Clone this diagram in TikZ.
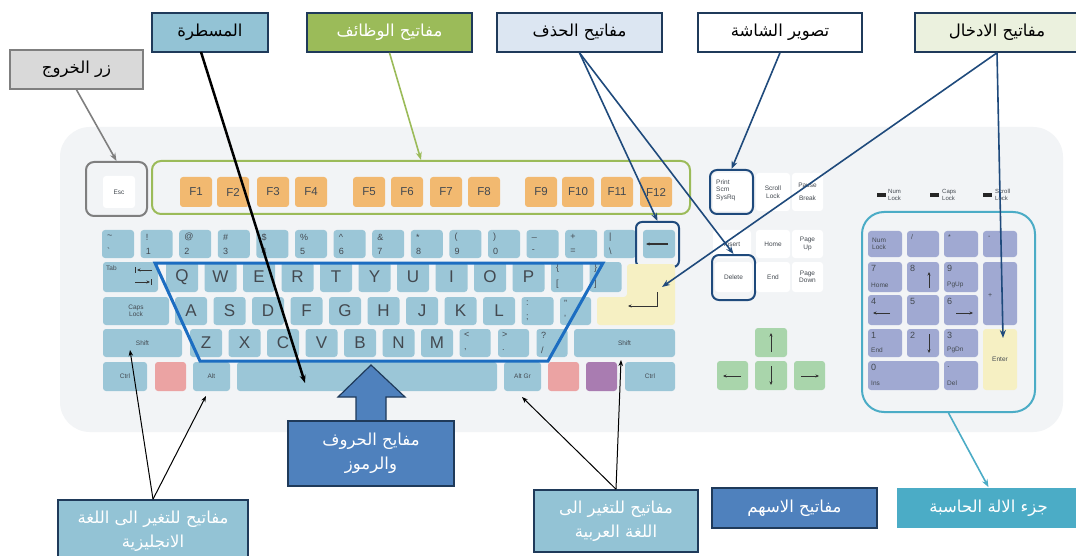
\documentclass[tikz,border=0pt]{standalone}
\usepackage{fontspec}
\setmainfont{Liberation Sans}
\newfontfamily\arabicfont[Script=Arabic]{DejaVu Sans}
\TeXXeTstate=1
\usetikzlibrary{arrows.meta,calc}
\definecolor{kbbg}{HTML}{F2F4F6}
\definecolor{keyblue}{HTML}{9BC6D7}
\definecolor{keytext}{HTML}{434950}
\definecolor{forange}{HTML}{F2B970}
\definecolor{keyred}{HTML}{EBA3A3}
\definecolor{keypurple}{HTML}{A97CB1}
\definecolor{keyyellow}{HTML}{F6F0C3}
\definecolor{keygreen}{HTML}{A9D5AB}
\definecolor{padblue}{HTML}{A0A9D2}
\definecolor{navy}{HTML}{1F4A7C}
\definecolor{boxline}{HTML}{1F3A5A}
\definecolor{letterline}{HTML}{1C6DC1}
\definecolor{grnline}{HTML}{9BBB59}
\definecolor{calcteal}{HTML}{4BACC6}
\definecolor{rulerblue}{HTML}{93C3D5}
\definecolor{delblue}{HTML}{DCE6F2}
\definecolor{entergreen}{HTML}{EBF1DE}
\definecolor{darkblue}{HTML}{4F81BD}
\definecolor{exitgray}{HTML}{D9D9D9}
\definecolor{exitline}{HTML}{7F7F7F}
\newcommand\K[7]{\node[#6, minimum width=#4pt, minimum height=#5pt] (#1) at ({#2+#4/2},{#3+#5/2}) {#7};}
\begin{document}
\begin{tikzpicture}[x=1pt,y=-1pt,
  keyb/.style={fill=keyblue, rounded corners=3pt, inner sep=0pt, text=keytext},
  whk/.style={fill=white, rounded corners=3pt, inner sep=0pt, text=keytext},
  letter/.style={font=\fontsize{17}{17}\selectfont},
  fk/.style={fill=forange, rounded corners=3pt, inner sep=0pt, text=keytext, font=\fontsize{11.5}{12}\selectfont},
  sym/.style={inner sep=0pt, anchor=west, text=keytext, font=\fontsize{9}{9}\selectfont},
  tiny/.style={inner sep=0pt, text=keytext, font=\fontsize{6.5}{7.5}\selectfont, align=center},
  tinyl/.style={inner sep=0pt, text=keytext, font=\fontsize{6.5}{7.5}\selectfont, align=left, anchor=west},
  padk/.style={fill=padblue, rounded corners=3pt, inner sep=0pt},
  grk/.style={fill=keygreen, rounded corners=3pt, inner sep=0pt},
  frame/.style={line width=2pt, rounded corners=7pt, inner sep=0pt},
  callout/.style={draw=boxline, line width=1.6pt, inner sep=0pt, font=\arabicfont\fontsize{16.5}{24}\selectfont, align=center},
  conn/.style={line width=1.6pt, -{Stealth[length=8pt,width=6pt]}},
  thinc/.style={line width=1pt, black, -{Stealth[length=6pt,width=4.5pt]}},
  symarr/.style={line width=1pt, black!80, -{Stealth[length=3.5pt,width=3pt]}},
]
\useasboundingbox (0,0) rectangle (1076,556);
\fill[white] (0,0) rectangle (1076,556);
\fill[kbbg, rounded corners=30pt] (60,127) rectangle (1063,432);

% Esc
\node[frame, draw=exitline, rounded corners=8pt, minimum width=61pt, minimum height=54pt] (escframe) at (116.5,189) {};
\K{esc}{103}{176}{32}{32}{whk,tiny}{Esc}

% function keys
\node[frame, draw=grnline, rounded corners=9pt, minimum width=538pt, minimum height=53pt] (fgroup) at (421,187.5) {};
\foreach \x [count=\i] in {180,217,257,295,353,391,430,468,525,562,601,640} { \K{f\i}{\x}{177}{32}{30}{fk}{F\i} }

% number row
\foreach \t/\b [count=\i from 0] in {{\textasciitilde}/{\textasciigrave}, !/1, @/2, {\#}/3, {\$}/4, {\%}/5, {\textasciicircum}/6, {\&}/7, */8, {(}/9, {)}/0, {\_}/{-}, +/=, |/{\textbackslash}} {
  \pgfmathsetmacro\xx{102+38.6*\i}
  \K{n\i}{\xx}{230}{32}{28}{keyb}{}
  \node[sym] (nt\i) at (\xx+5,237) {\t};
  \node[sym] (nb\i) at (\xx+5,251) {\b};
}
\K{bksp}{643}{230}{32}{28}{keyb}{}
\draw[symarr, line width=1.4pt] (668,244) -- (646,244);
\node[frame, draw=navy, rounded corners=6pt, minimum width=43pt, minimum height=45pt] (bsframe) at (657.5,244.5) {};

% tab row
\K{tab}{103}{262}{55}{30}{keyb}{}
\node[tinyl] (tabt) at (106,268) {Tab};
\draw[symarr] (152,270) -- (137,270);
\draw[line width=1pt, black!80] (135.5,267) -- (135.5,273);
\draw[symarr] (135,282) -- (150,282);
\draw[line width=1pt, black!80] (151.5,279) -- (151.5,285);
\foreach \l [count=\i from 0] in {Q,W,E,R,T,Y,U,I,O,P} {
  \pgfmathsetmacro\xx{166+38.5*\i}
  \K{q\i}{\xx}{262}{32}{30}{keyb,letter}{\l}
}
\K{lbrk}{551}{262}{32}{30}{keyb}{}
\node[sym] (lbt) at (556,268) {\{};
\node[sym] (lbb) at (556,284) {[};
\K{rbrk}{589.5}{262}{32}{30}{keyb}{}
\node[sym] (rbt) at (594,268) {\}};
\node[sym] (rbb) at (594,284) {]};

% enter
\fill[keyyellow, rounded corners=3pt] (627,264) -- (675,264) -- (675,325) -- (597,325) -- (597,297) -- (627,297) -- cycle;
\draw[symarr] (657,292) -- (657,306) -- (628,306);
\coordinate (enterin) at (662,287);

% caps row
\K{caps}{103}{297}{66}{28}{keyb,tiny}{Caps\\Lock}
\foreach \l [count=\i from 0] in {A,S,D,F,G,H,J,K,L} {
  \pgfmathsetmacro\xx{175+38.5*\i}
  \K{a\i}{\xx}{297}{32}{28}{keyb,letter}{\l}
}
\K{semi}{521.5}{297}{32}{28}{keyb}{}
\node[sym] (semit) at (526,303) {:};
\node[sym] (semib) at (526,318) {;};
\K{quot}{560}{297}{31}{28}{keyb}{}
\node[sym] (quott) at (564,303) {"};
\node[sym] (quotb) at (564,318) {'};

% shift row
\K{lshift}{103}{329}{79}{28}{keyb,tiny}{Shift}
\foreach \l [count=\i from 0] in {Z,X,C,V,B,N,M} {
  \pgfmathsetmacro\xx{190+38.5*\i}
  \K{z\i}{\xx}{329}{32}{28}{keyb,letter}{\l}
}
\K{lt}{459.5}{329}{31}{28}{keyb}{}
\node[sym] (ltt) at (464,335) {<};
\node[sym] (ltb) at (464,350) {,};
\K{gt}{498}{329}{31}{28}{keyb}{}
\node[sym] (gtt) at (502,335) {>};
\node[sym] (gtb) at (502,350) {.};
\K{qm}{536.5}{329}{31}{28}{keyb}{}
\node[sym] (qmt) at (541,335) {?};
\node[sym] (qmb) at (541,350) {/};
\K{rshift}{574}{329}{101}{28}{keyb,tiny}{Shift}

% bottom row
\K{lctrl}{103}{362}{44}{29}{keyb,tiny}{Ctrl}
\K{lwin}{155}{362}{31}{29}{fill=keyred, rounded corners=3pt, inner sep=0pt}{}
\K{lalt}{193}{362}{37}{29}{keyb,tiny}{Alt}
\K{space}{237}{362}{260}{29}{keyb}{}
\K{altgr}{504}{362}{37}{29}{keyb,tiny}{Alt Gr}
\K{rwin}{548}{362}{31}{29}{fill=keyred, rounded corners=3pt, inner sep=0pt}{}
\K{menu}{586}{362}{31}{29}{fill=keypurple, rounded corners=3pt, inner sep=0pt}{}
\K{rctrl}{625}{362}{50}{29}{keyb,tiny}{Ctrl}

% letters outline
\draw[letterline, line width=3pt, line join=miter] (155,263) -- (603,263) -- (548,361) -- (200,361) -- cycle;

% navigation block
\K{prt}{713}{173}{38}{38}{whk}{}
\node[tinyl, align=left] (prtt) at (716,190) {Print\\Scrn\\SysRq};
\node[frame, draw=navy, minimum width=43pt, minimum height=44pt] (prtframe) at (731.5,192) {};
\K{scrl}{756}{173}{34}{38}{whk,tiny}{Scroll\\Lock}
\K{paus}{792}{173}{31}{38}{whk,tiny}{Pause\\[5pt]Break}
\K{ins}{713}{230}{38}{28}{whk,tiny}{Insert}
\K{home}{756}{230}{34}{28}{whk,tiny}{Home}
\K{pgup}{792}{230}{31}{28}{whk,tiny}{Page\\Up}
\K{del}{715}{262}{37}{30}{whk,tiny}{Delete}
\node[frame, draw=navy, minimum width=43pt, minimum height=45pt] (delframe) at (733.5,277.5) {};
\K{endk}{756}{262}{34}{30}{whk,tiny}{End}
\K{pgdn}{792}{262}{31}{30}{whk,tiny}{Page\\Down}

% arrow keys
\K{up}{755}{328}{32}{29}{grk}{}
\K{left}{717}{361}{31}{29}{grk}{}
\K{down}{755}{361}{32}{29}{grk}{}
\K{right}{794}{361}{31}{29}{grk}{}
\draw[symarr] (771,352) -- (771,333);
\draw[symarr] (741,376) -- (723,376);
\draw[symarr] (771,366) -- (771,385);
\draw[symarr] (801,376) -- (819,376);

% lock lights
\fill[black!85] (877,193) rectangle (886,197);
\node[tinyl, font=\fontsize{6}{6.5}\selectfont] (numl) at (888,195) {Num\\Lock};
\fill[black!85] (930,193) rectangle (939,197);
\node[tinyl, font=\fontsize{6}{6.5}\selectfont] (capl) at (942,195) {Caps\\Lock};
\fill[black!85] (983,193) rectangle (992,197);
\node[tinyl, font=\fontsize{6}{6.5}\selectfont] (scrl2) at (995,195) {Scroll\\Lock};

% numpad
\node[frame, draw=calcteal, rounded corners=22pt, minimum width=173pt, minimum height=200pt] (padframe) at (948.5,312) {};
\K{numlk}{868}{231}{34}{26}{padk}{}
\node[tinyl] (numlkt) at (872,244) {Num\\Lock};
\K{pdiv}{907}{231}{32}{26}{padk}{}
\node[sym, font=\fontsize{7}{7}\selectfont] (pdivt) at (911,237) {/};
\K{pmul}{944}{231}{34}{26}{padk}{}
\node[sym, font=\fontsize{7}{7}\selectfont] (pmult) at (948,237) {*};
\K{pmin}{983}{231}{34}{26}{padk}{}
\node[sym, font=\fontsize{7}{7}\selectfont] (pmint) at (988,237) {-};
\K{p7}{868}{262}{34}{30}{padk}{}
\node[sym] (p7t) at (871,268) {7};
\node[tinyl] (p7b) at (871,285) {Home};
\K{p8}{907}{262}{32}{30}{padk}{}
\node[sym] (p8t) at (910,268) {8};
\draw[symarr] (929,288) -- (929,272);
\K{p9}{944}{262}{34}{30}{padk}{}
\node[sym] (p9t) at (947,268) {9};
\node[tinyl] (p9b) at (947,285) {PgUp};
\K{pplus}{983}{262}{34}{63}{padk}{}
\node[sym, font=\fontsize{7}{7}\selectfont] (pplust) at (988,295) {+};
\K{p4}{868}{295}{34}{30}{padk}{}
\node[sym] (p4t) at (871,301) {4};
\draw[symarr] (890,313) -- (873,313);
\K{p5}{907}{295}{32}{30}{padk}{}
\node[sym] (p5t) at (910,301) {5};
\K{p6}{944}{295}{34}{30}{padk}{}
\node[sym] (p6t) at (947,301) {6};
\draw[symarr] (956,313) -- (973,313);
\K{p1}{868}{329}{34}{28}{padk}{}
\node[sym] (p1t) at (871,335) {1};
\node[tinyl] (p1b) at (871,350) {End};
\K{p2}{907}{329}{32}{28}{padk}{}
\node[sym] (p2t) at (910,335) {2};
\draw[symarr] (929,334) -- (929,353);
\K{p3}{944}{329}{34}{28}{padk}{}
\node[sym] (p3t) at (947,335) {3};
\node[tinyl] (p3b) at (947,350) {PgDn};
\K{pent}{983}{329}{34}{61}{fill=keyyellow, rounded corners=3pt, inner sep=0pt, text=keytext, font=\fontsize{6.5}{7}\selectfont}{Enter}
\K{p0}{868}{361}{71}{29}{padk}{}
\node[sym] (p0t) at (871,367) {0};
\node[tinyl] (p0b) at (871,383) {Ins};
\K{pdot}{944}{361}{34}{29}{padk}{}
\node[sym] (pdott) at (947,367) {.};
\node[tinyl] (pdotb) at (947,383) {Del};

% block arrow
\draw[fill=darkblue, draw=boxline, line width=1.2pt, line join=miter] (371,365) -- (405,397) -- (386,397) -- (386,422) -- (356,422) -- (356,397) -- (338,397) -- cycle;

% callout boxes
\node[callout, fill=exitgray, draw=exitline, minimum width=133pt, minimum height=39pt] (exitb) at (76.5,69.5) {\beginR زر الخروج\endR};
\node[callout, fill=rulerblue, minimum width=116pt, minimum height=39pt] (ruler) at (210,32.5) {\beginR المسطرة\endR};
\node[callout, fill=grnline, text=white, minimum width=165pt, minimum height=39pt] (fkeysb) at (389.5,32.5) {\beginR مفاتيح الوظائف\endR};
\node[callout, fill=delblue, minimum width=165pt, minimum height=39pt] (delb) at (579.5,32.5) {\beginR مفاتيح الحذف\endR};
\node[callout, fill=white, minimum width=164pt, minimum height=39pt] (shotb) at (780,32.5) {\beginR تصوير الشاشة\endR};
\node[callout, fill=entergreen, minimum width=164pt, minimum height=39pt] (enterb) at (997,32.5) {\beginR مفاتيح الادخال\endR};
\node[callout, fill=rulerblue, text=white, minimum width=190pt, minimum height=62pt] (engb) at (153,531) {\beginR مفاتيح للتغير الى اللغة\endR\\\beginR الانجليزية\endR};
\node[callout, fill=darkblue, text=white, minimum width=166pt, minimum height=65pt] (lettb) at (371,453.5) {\beginR مفايح الحروف\endR\\\beginR والرموز\endR};
\node[callout, fill=rulerblue, text=white, minimum width=164pt, minimum height=62pt] (arabb) at (616,521) {\beginR مفاتيح للتغير الى\endR\\\beginR اللغة العربية\endR};
\node[callout, fill=darkblue, text=white, minimum width=165pt, minimum height=40pt] (arrowb) at (794.5,508) {\beginR مفاتيح الاسهم\endR};
\node[callout, fill=calcteal, draw=none, text=white, minimum width=183pt, minimum height=40pt] (calcb) at (988.5,508) {\beginR جزء الالة الحاسبة\endR};

% connectors
\coordinate (rulerfoot) at (201,52);
\coordinate (spacept) at (305,383);
\coordinate (padenter) at (1003,338);
\coordinate (shiftpt) at (130,350);
\coordinate (altpt) at (206,396);
\coordinate (altgrpt) at (522,397);
\coordinate (rshiftpt) at (621,360);
\draw[conn, exitline] (exitb.south) -- (escframe.north);
\draw[conn, black, line width=2.5pt] (rulerfoot) -- (spacept);
\draw[conn, grnline] (fkeysb.south) -- (fgroup.north);
\draw[conn, navy] (delb.south) -- (bsframe.north);
\draw[conn, navy] (delb.south) -- (delframe.north);
\draw[conn, navy] (shotb.south) -- (prtframe.north);
\draw[conn, navy] (enterb.south) -- (enterin);
\draw[conn, navy] (enterb.south) -- (padenter);
\draw[conn, calcteal] (padframe.south) -- (calcb.north);
\draw[thinc] (engb.north) -- (shiftpt);
\draw[thinc] (engb.north) -- (altpt);
\draw[thinc] (arabb.north) -- (altgrpt);
\draw[thinc] (arabb.north) -- (rshiftpt);
\end{tikzpicture}
\end{document}
